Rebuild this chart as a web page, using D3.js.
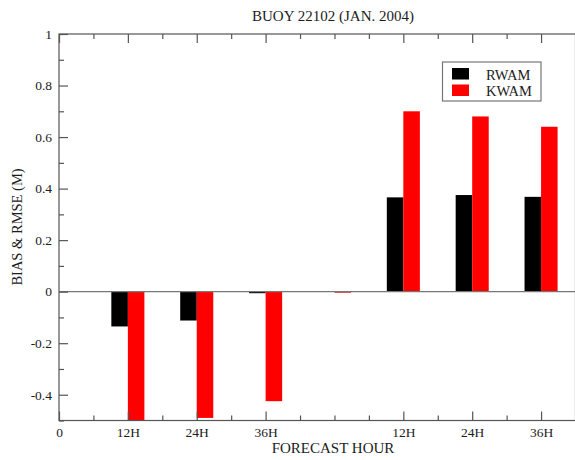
<!DOCTYPE html>
<html>
<head>
<meta charset="utf-8">
<script src="https://cdn.jsdelivr.net/npm/d3@7/dist/d3.min.js"></script>
<style>
  html, body { margin: 0; padding: 0; background: #fff; }
  svg { display: block; }
  text { font-family: "Liberation Serif", "Times New Roman", serif; fill: #1c1c1c; }
</style>
</head>
<body>
<div id="chart"></div>
<script>
// Forecast-hour groups placed along a numeric axis (0..15)
const groupPositions = [2, 4, 6, 8, 10, 12, 14];
const groupNames = ["12H", "24H", "36H", "", "12H", "24H", "36H"];
// Bias (left half) and RMSE (right half), metres
const rwam = [-0.135, -0.112, -0.006, 0.0, 0.366, 0.375, 0.368];
const kwam = [-0.52, -0.49, -0.425, -0.004, 0.70, 0.68, 0.64];
const seriesNames = ["RWAM", "KWAM"];
const seriesColors = ["#000000", "#ff0000"];

const xTickValues = [0, 2, 4, 6, 10, 12, 14];
const xTickLabels = ["0", "12H", "24H", "36H", "12H", "24H", "36H"];
const yTickValues = [-0.4, -0.2, 0, 0.2, 0.4, 0.6, 0.8, 1];
const yTickLabels = ["-0.4", "-0.2", "0", "0.2", "0.4", "0.6", "0.8", "1"];

const W = 575, H = 460;
const plot = { left: 59, right: 575.5, top: 34, bottom: 420.5 };

const svg = d3.select("#chart").append("svg").attr("width", W).attr("height", H);

const x = d3.scaleLinear().domain([0, 15]).range([plot.left, plot.right]);
const y = d3.scaleLinear().domain([-0.5, 1]).range([plot.bottom, plot.top]);

const barW = 0.48; // bar width in axis units
const axisColor = "#555";

svg.append("defs").append("clipPath").attr("id", "plotclip")
  .append("rect")
  .attr("x", plot.left).attr("y", plot.top)
  .attr("width", plot.right - plot.left).attr("height", plot.bottom - plot.top);

// Bars: RWAM left of the group position, KWAM right of it
const bars = svg.append("g").attr("clip-path", "url(#plotclip)");
[rwam, kwam].forEach((vals, si) => {
  bars.selectAll(null)
    .data(vals.map((v, i) => ({ v, pos: groupPositions[i] })))
    .enter().append("rect")
    .attr("x", d => x(d.pos + (si === 0 ? -barW : 0)))
    .attr("width", x(barW) - x(0))
    .attr("y", d => y(Math.max(0, d.v)))
    .attr("height", d => Math.abs(y(d.v) - y(0)))
    .attr("fill", seriesColors[si]);
});

// Zero line
svg.append("line")
  .attr("x1", plot.left).attr("x2", plot.right)
  .attr("y1", y(0)).attr("y2", y(0))
  .attr("stroke", "#777").attr("stroke-width", 1.2);

// Frame
svg.append("rect")
  .attr("x", plot.left).attr("y", plot.top)
  .attr("width", plot.right - plot.left).attr("height", plot.bottom - plot.top)
  .attr("fill", "none").attr("stroke", axisColor).attr("stroke-width", 1.2);

const majorLen = 9, minorLen = 5;
const xMinor = d3.range(0, 16).filter(v => !xTickValues.includes(v));
const yMinor = d3.range(-5, 11).map(v => v / 10).filter(v => !yTickValues.some(t => Math.abs(t - v) < 1e-9));

// Bottom axis (ticks point inward)
const xAxisB = d3.axisBottom(x).tickValues(xTickValues)
  .tickFormat((d, i) => xTickLabels[i]).tickSizeInner(-majorLen).tickSizeOuter(0).tickPadding(7);
const gB = svg.append("g").attr("transform", `translate(0,${plot.bottom})`).call(xAxisB);
gB.append("g").call(d3.axisBottom(x).tickValues(xMinor).tickFormat("").tickSizeInner(-minorLen).tickSizeOuter(0));

// Top axis mirrors the bottom ticks
const gT = svg.append("g").attr("transform", `translate(0,${plot.top})`)
  .call(d3.axisTop(x).tickValues(xTickValues).tickFormat("").tickSizeInner(-majorLen).tickSizeOuter(0));
gT.append("g").call(d3.axisTop(x).tickValues(xMinor).tickFormat("").tickSizeInner(-minorLen).tickSizeOuter(0));

// Left axis
const gL = svg.append("g").attr("transform", `translate(${plot.left},0)`)
  .call(d3.axisLeft(y).tickValues(yTickValues).tickFormat((d, i) => yTickLabels[i])
    .tickSizeInner(-majorLen).tickSizeOuter(0).tickPadding(7));
gL.append("g").call(d3.axisLeft(y).tickValues(yMinor).tickFormat("").tickSizeInner(-minorLen).tickSizeOuter(0));

[gB, gT, gL].forEach(g => {
  g.selectAll(".domain").remove();
  g.selectAll("line").attr("stroke", axisColor).attr("stroke-width", 1.2);
  g.selectAll("text").style("font-family", '"Liberation Serif", serif').style("font-size", "13.5px").attr("fill", "#1c1c1c");
});

// Titles
svg.append("text").attr("x", 333).attr("y", 21).attr("text-anchor", "middle")
  .style("font-size", "15px").text("BUOY 22102 (JAN. 2004)");
svg.append("text").attr("x", 333).attr("y", 453).attr("text-anchor", "middle")
  .style("font-size", "15px").text("FORECAST HOUR");
svg.append("text").attr("transform", `translate(22,227) rotate(-90)`).attr("text-anchor", "middle")
  .style("font-size", "14.5px").text("BIAS & RMSE (M)");

// Legend
const lg = svg.append("g");
lg.append("rect").attr("x", 442.5).attr("y", 62).attr("width", 98.5).attr("height", 39)
  .attr("fill", "#fff").attr("stroke", "#777").attr("stroke-width", 1.2);
seriesNames.forEach((name, i) => {
  lg.append("rect").attr("x", 452).attr("y", 68 + i * 16.5).attr("width", 17).attr("height", 11.5)
    .attr("fill", seriesColors[i]);
  lg.append("text").attr("x", 486).attr("y", 79.5 + i * 16.5).style("font-size", "14.5px").text(name);
});
</script>
</body>
</html>
